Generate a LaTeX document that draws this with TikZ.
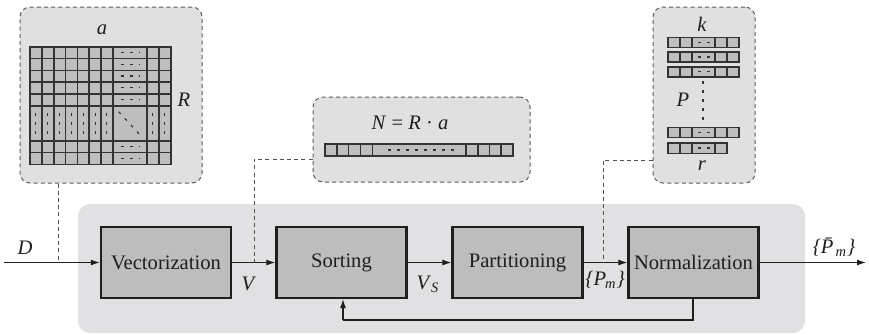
\documentclass[tikz,border=0pt]{standalone}
\usepackage{fontspec}
\setmainfont{Liberation Serif}
\usetikzlibrary{arrows.meta,calc}
\definecolor{bggray}{HTML}{E1E1E3}
\definecolor{panelgray}{HTML}{E0E0E1}
\definecolor{boxgray}{HTML}{BDBDBD}
\definecolor{cellgray}{HTML}{BEBEBE}
\definecolor{linegray}{HTML}{333333}
\definecolor{inkgray}{HTML}{1E1E1E}
\newcommand{\vsym}[1]{\textit{#1}}
\begin{document}
\begin{tikzpicture}[x=0.5pt,y=-0.5pt,
  every node/.style={text=inkgray,font=\fontsize{10.3}{12}\selectfont},
  panel/.style={draw=linegray!80,dashed,dash pattern=on 2pt off 1.6pt,line width=0.5pt,fill=panelgray,rounded corners=5pt},
  block/.style={draw=inkgray,line width=1.1pt,fill=boxgray,minimum width=65pt,minimum height=35.5pt,inner sep=0pt},
  flow/.style={draw=inkgray,line width=0.6pt,-{Latex[length=4.5pt,width=3pt]}},
  feedline/.style={draw=inkgray,line width=0.6pt},
  link/.style={draw=linegray!85,line width=0.5pt,dash pattern=on 2pt off 1.6pt},
  cell/.style={draw=linegray,line width=0.8pt,fill=cellgray},
  gap/.style={draw=linegray,line width=0.55pt,dash pattern=on 1.5pt off 3pt},
  mathlabel/.style={font=\fontsize{10.3}{12}\selectfont\itshape}]
\useasboundingbox (0,0) rectangle (869,334);

% ---------- processing chain ----------
\fill[bggray,rounded corners=6pt] (78,204) rectangle (805,333);
\node[block] (vec) at (166,262.5) {Vectorization};
\node[block] (sort) at (341.5,262.5) {Sorting};
\node[block] (part) at (517.5,262.5) {Partitioning};
\node[block] (norm) at (693.5,262.5) {Normalization};
\coordinate (din) at (4,262.5);
\coordinate (dout) at (866,262.5);
\coordinate (fbr) at (693,320);
\coordinate (fbl) at (343,320);
\draw[flow] (din) -- (vec.west);
\draw[flow] (vec.east) -- (sort.west);
\draw[flow] (sort.east) -- (part.west);
\draw[flow] (part.east) -- (norm.west);
\draw[flow] (norm.east) -- (dout);
\draw[feedline] (norm.south -| fbr) -- (fbr) -- (fbl);
\draw[flow] (fbl) -- (fbl |- sort.south);

\node[mathlabel] (lD) at (25,248) {D};
\node[mathlabel] (lV) at (248,284) {V};
\node (lVs) at (428,284) {\vsym{V}\textsubscript{\vsym{S}}};
\node (lPm) at (605,280) {\vsym{\{P}\kern-0.5pt\textsubscript{\vsym{m}}\vsym{\}}};
\node (lPbar) at (834,247) {\vsym{\{\={P}}\kern-1.5pt\textsubscript{\vsym{m}}\vsym{\}}};

% ---------- data matrix ----------
\node[panel,minimum width=91pt,minimum height=88pt] (mat) at (111,95) {};
\node[mathlabel] (la) at (102,30) {a};
\node[mathlabel] (lR) at (184,100) {R};
\foreach \xa/\xb/\kx in {30/41.8/n,41.8/53.7/n,53.7/65.6/n,65.6/77.3/n,77.3/89.2/n,89.2/101/n,101/112.7/n,112.7/146.7/w,146.7/158.7/n,158.7/171/n}{
  \foreach \ya/\yb/\ky in {46.7/58.3/n,58.3/70.3/n,70.3/81.7/n,81.7/94/n,94/105.7/n,105.7/140.7/w,140.7/152.3/n,152.3/164.3/n}{
    \draw[cell] (\xa,\ya) rectangle (\xb,\yb);
    \if\kx w\if\ky n
      \draw[gap] ($(\xa,\ya)!0.5!(\xb,\yb)+(-9,0)$) -- ++(19,0);
    \fi\fi
    \if\kx n\if\ky w
      \draw[gap] ($(\xa,\ya)!0.5!(\xb,\yb)+(0,-10)$) -- ++(0,21);
    \fi\fi
    \if\kx w\if\ky w
      \draw[gap] ($(\xa,\ya)+(6,6)$) -- ($(\xb,\yb)+(-6,-5)$);
    \fi\fi
  }
}
\draw[link] (mat.south -| 58,0) -- (58,262.5);

% ---------- vectorized matrix ----------
\node[panel,minimum width=108.5pt,minimum height=42.5pt] (vecp) at (421.5,139.5) {};
\node (lN) at (410,123) {\vsym{N} = \vsym{R} · \vsym{a}};
\foreach \xa/\xb in {325/336.7,336.7/348.3,348.3/360.3,360.3/372.3,372.3/466,466/477.7,477.7/489.3,489.3/501,501/512.7}{
  \draw[cell] (\xa,144) rectangle (\xb,156);
}
\draw[gap] (388,150) -- (456,150);
\draw[link] (vecp.west |- 0,159) -- (254,159) -- (254,262.5);

% ---------- partitions ----------
\node[panel,minimum width=51pt,minimum height=88pt] (parts) at (704,95) {};
\node[mathlabel] (lk) at (702,24) {k};
\node[mathlabel] (lP) at (683,100) {P};
\node[mathlabel] (lr) at (702,166) {r};
\foreach \ya/\yb in {37.3/47.3,52/62,66.7/76.7,127.3/137.3}{
  \foreach \xa/\xb in {667.7/680,680/691.7,691.7/715,715/726.7,726.7/738.7}{
    \draw[cell] (\xa,\ya) rectangle (\xb,\yb);
  }
  \draw[gap] (698,{(\ya+\yb)/2}) -- (710,{(\ya+\yb)/2});
}
\foreach \xa/\xb in {667.7/680,680/691.7,691.7/715,715/726.7}{
  \draw[cell] (\xa,142.7) rectangle (\xb,153.3);
}
\draw[gap] (698,148) -- (710,148);
\draw[gap] (703,81) -- (703,123);
\draw[link] (parts.west |- 0,160) -- (603,160) -- (603,262.5);
\end{tikzpicture}
\end{document}
